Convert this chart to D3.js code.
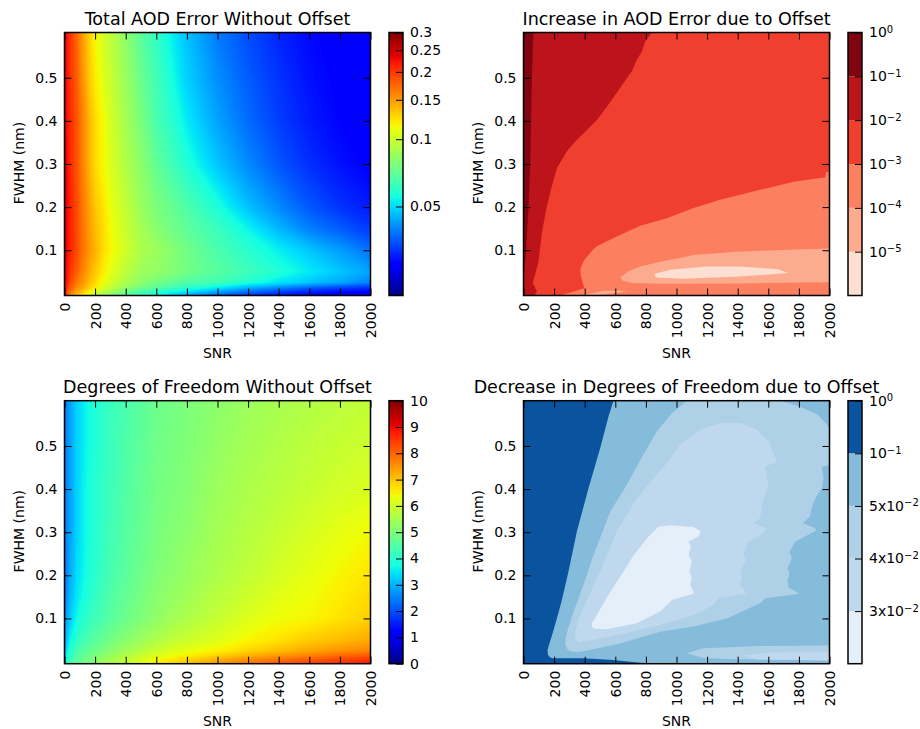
<!DOCTYPE html>
<html>
<head>
<meta charset="utf-8">
<script src="https://cdn.jsdelivr.net/npm/d3@7"></script>
<style>
  body { margin: 0; background: #fff; }
  text { font-family: 'DejaVu Sans', sans-serif; fill: #000; }
  .title { font-size: 17.5px; text-anchor: middle; }
  .axis-label { font-size: 14px; text-anchor: middle; }
  .tick text { font-size: 14px; }
  .tick line { stroke: #000; stroke-width: 1; }
</style>
</head>
<body>
<svg width="920" height="729"></svg>
<script>
(function (d3) {
  'use strict';

  const snrTicks = [0, 200, 400, 600, 800, 1000, 1200, 1400, 1600, 1800, 2000];
  const fwhmTicks = [0.1, 0.2, 0.3, 0.4, 0.5];

  // grid nodes for the two smooth maps
  const snrNodes = [0, 15, 40, 80, 120, 160, 200, 250, 300, 350, 400, 500, 600, 700, 800, 1000, 1200, 1400, 1600, 1800, 2000];
  const fwhmNodes = [-0.005, 0.004, 0.013, 0.025, 0.05, 0.1, 0.15, 0.2, 0.3, 0.4, 0.5, 0.605];

  // total AOD error, one row per fwhm node
  const aodError = [
    [.217, .185, .153, .133, .120, .107, .096, .086, .080, .073, .068, .059, .053, .0475, .0427, .0363, .0317, .0292, .0277, .0262, .0255],
    [.230, .195, .170, .149, .133, .120, .107, .096, .089, .082, .075, .066, .061, .056, .052, .044, .038, .034, .031, .029, .028],
    [.242, .206, .180, .157, .145, .130, .120, .107, .099, .091, .084, .075, .070, .064, .059, .052, .045, .0405, .0363, .0335, .0317],
    [.249, .217, .190, .166, .153, .137, .126, .113, .104, .096, .091, .082, .075, .0714, .0676, .0641, .0575, .0516, .0475, .0439, .0394],
    [.249, .223, .200, .180, .161, .145, .133, .120, .110, .102, .096, .086, .084, .0796, .0753, .0686, .0632, .0575, .0523, .0475, .0433],
    [.256, .230, .212, .190, .170, .153, .141, .126, .116, .109, .102, .091, .0863, .0807, .0753, .0658, .0591, .053, .0475, .0427, .0378],
    [.256, .230, .212, .190, .168, .151, .137, .125, .1148, .107, .100, .0887, .081, .0753, .0704, .0625, .0537, .0457, .0394, .0358, .0326],
    [.256, .230, .212, .190, .166, .149, .133, .123, .112, .104, .0975, .086, .0775, .0724, .0666, .0567, .0469, .0405, .0353, .0321, .030],
    [.256, .230, .206, .185, .161, .141, .126, .116, .106, .099, .092, .082, .0714, .0641, .0575, .0475, .0405, .0353, .0317, .0292, .0277],
    [.249, .223, .206, .185, .161, .141, .126, .115, .104, .096, .089, .0775, .0658, .0591, .0523, .0433, .0373, .033, .030, .0281, .0273],
    [.249, .223, .200, .180, .153, .133, .120, .109, .100, .092, .086, .0733, .0641, .0559, .0488, .041, .0358, .0321, .0292, .0277, .027],
    [.249, .223, .200, .175, .149, .130, .116, .104, .096, .089, .082, .0695, .0607, .053, .0469, .0388, .0343, .0308, .0285, .0273, .0266]
  ];

  // degrees of freedom, one row per fwhm node
  const dof = [
    [2.9, 3.9, 4.3, 4.65, 4.85, 5.0, 5.2, 5.4, 5.6, 5.75, 5.9, 6.25, 6.55, 6.8, 7.0, 7.5, 7.9, 8.2, 8.45, 8.65, 8.85],
    [2.8, 3.8, 4.25, 4.6, 4.8, 4.95, 5.1, 5.3, 5.5, 5.65, 5.8, 6.15, 6.4, 6.65, 6.85, 7.25, 7.65, 7.9, 8.15, 8.35, 8.55],
    [2.7, 3.7, 4.15, 4.5, 4.7, 4.85, 5.0, 5.2, 5.35, 5.5, 5.65, 5.95, 6.2, 6.4, 6.6, 6.9, 7.25, 7.5, 7.75, 8.0, 8.2],
    [2.6, 3.5, 4.0, 4.35, 4.55, 4.7, 4.85, 5.0, 5.15, 5.3, 5.45, 5.7, 5.95, 6.15, 6.3, 6.55, 6.85, 7.1, 7.35, 7.55, 7.7],
    [2.5, 3.2, 3.7, 4.05, 4.3, 4.45, 4.6, 4.75, 4.9, 5.05, 5.15, 5.4, 5.6, 5.8, 5.95, 6.2, 6.5, 6.7, 6.95, 7.1, 7.3],
    [2.4, 2.9, 3.3, 3.7, 3.95, 4.15, 4.25, 4.4, 4.55, 4.7, 4.8, 5.05, 5.25, 5.45, 5.6, 5.9, 6.2, 6.4, 6.5, 6.7, 6.9],
    [2.35, 2.7, 3.1, 3.5, 3.75, 3.95, 4.1, 4.3, 4.45, 4.6, 4.7, 4.95, 5.15, 5.3, 5.45, 5.75, 6.0, 6.25, 6.4, 6.6, 6.8],
    [2.3, 2.6, 3.0, 3.4, 3.65, 3.85, 4.0, 4.2, 4.35, 4.5, 4.6, 4.85, 5.05, 5.2, 5.35, 5.6, 5.85, 6.1, 6.3, 6.5, 6.7],
    [2.3, 2.6, 2.9, 3.3, 3.6, 3.8, 3.95, 4.1, 4.3, 4.4, 4.55, 4.75, 4.95, 5.1, 5.2, 5.5, 5.7, 5.9, 6.1, 6.3, 6.45],
    [2.3, 2.6, 2.9, 3.3, 3.6, 3.8, 3.95, 4.1, 4.25, 4.35, 4.5, 4.7, 4.9, 5.0, 5.1, 5.4, 5.6, 5.75, 5.9, 6.05, 6.15],
    [2.3, 2.6, 2.9, 3.3, 3.55, 3.75, 3.9, 4.05, 4.2, 4.3, 4.45, 4.65, 4.85, 4.95, 5.05, 5.3, 5.5, 5.65, 5.8, 5.9, 6.0],
    [2.3, 2.6, 2.9, 3.3, 3.55, 3.75, 3.9, 4.05, 4.2, 4.3, 4.4, 4.6, 4.8, 4.9, 5.0, 5.2, 5.4, 5.55, 5.65, 5.75, 5.85]
  ];

  const errorTicks = [0.05, 0.1, 0.15, 0.2, 0.25, 0.3];
  const errorLabels = ['0.05', '0.1', '0.15', '0.2', '0.25', '0.3'];
  const dofTicks = [0, 1, 2, 3, 4, 5, 6, 7, 8, 9, 10];

  // contour outlines, as [snr, fwhm]
  const increaseColors = ['#fee0d2', '#fcab8f', '#fc7f5f', '#f03f2e', '#bc141a', '#7f0610'];
  const increaseLabels = [['10', '−5'], ['10', '−4'], ['10', '−3'], ['10', '−2'], ['10', '−1'], ['10', '0']];

  const increaseBand3 = [[2000, .283], [1976, .280], [1972, .269], [1765, .259], [1547, .240], [1286, .217], [1111, .198], [937, .174], [763, .157], [610, .132], [479, .109], [450, .100], [425, .089], [398, .078], [381, .066], [371, .055], [375, .040], [397, .012], [330, .004], [240, -.005], [2000, -.005]];
  const increaseBand2 = [[2000, .104], [1743, .101], [1416, .097], [1109, .089], [1024, .082], [900, .074], [763, .062], [680, .050], [632, .036], [650, .029], [717, .024], [900, .022], [1416, .023], [2000, .026]];
  const increaseBand2Low = [[403, -.004], [520, .006], [675, .006], [632, .002], [500, -.003]];
  const increaseBand1 = [[853, .045], [866, .037], [1044, .034], [1416, .039], [1730, .047], [1664, .056], [1416, .062], [1198, .062], [958, .055]];
  const increaseBand5 = [[839, .605], [795, .584], [774, .561], [741, .542], [708, .515], [654, .488], [593, .457], [545, .433], [479, .402], [403, .375], [338, .352], [283, .329], [218, .290], [179, .240], [148, .194], [120, .140], [98, .074], [61, .024], [88, .004], [70, -.005], [0, -.005], [0, .605]];
  const increaseBand6 = [[65, .605], [55, .5], [44, .3], [33, .2], [17, .1], [5, .05], [0, .02], [0, .605]];

  const decreaseColors = ['#e4eff9', '#bfd8ed', '#aed1e7', '#85bbdb', '#0a539e'];
  const decreaseLabels = [['3x10', '−2'], ['4x10', '−2'], ['5x10', '−2'], ['10', '−1'], ['10', '0']];

  const decreaseBand5 = [[588, .605], [556, .569], [501, .495], [425, .402], [349, .302], [294, .209], [251, .143], [218, .100], [190, .065], [168, .040], [157, .027], [160, .016], [172, .010], [190, .0075], [392, .0075], [587, .0036], [763, -.003], [820, -.005], [0, -.005], [0, .605]];
  const decreaseBand3 = [[1068, .605], [970, .576], [872, .534], [784, .480], [675, .410], [567, .348], [458, .247], [392, .178], [316, .104], [290, .075], [276, .055], [272, .042], [282, .031], [305, .024], [345, .022], [392, .024], [631, .042], [893, .069], [1111, .081], [1329, .100], [1547, .135], [1580, .147], [1804, .157], [1732, .172], [1726, .189], [1739, .205], [1726, .216], [1754, .240], [1739, .255], [1776, .278], [1913, .304], [1906, .310], [1825, .321], [1872, .336], [1883, .356], [1913, .383], [1950, .402], [1961, .425], [1950, .452], [2000, .456], [2000, .542], [1965, .557], [1918, .574], [1798, .592], [1678, .605]];
  const decreaseBand2 = [[338, .066], [360, .100], [392, .124], [501, .209], [610, .302], [741, .379], [850, .425], [937, .460], [1024, .503], [1155, .538], [1286, .553], [1416, .553], [1525, .538], [1602, .511], [1634, .483], [1656, .463], [1580, .453], [1591, .425], [1602, .406], [1569, .379], [1547, .333], [1503, .321], [1586, .309], [1569, .298], [1471, .278], [1438, .251], [1456, .236], [1416, .208], [1427, .189], [1412, .181], [1456, .158], [1275, .147], [1242, .131], [1111, .108], [1003, .096], [893, .085], [588, .059], [382, .046], [360, .045], [340, .052]];
  const decreaseBand1 = [[447, .089], [446, .082], [458, .076], [545, .075], [741, .089], [893, .116], [970, .143], [1116, .158], [1090, .178], [1100, .193], [1085, .209], [1100, .232], [1079, .247], [1094, .267], [1079, .278], [1144, .290], [1159, .303], [1111, .312], [959, .316], [883, .313], [817, .290], [719, .246], [654, .209], [556, .155], [479, .108]];
  const decreaseLens3 = [[1063, .019], [1176, .031], [1547, .036], [2000, .037], [2000, .002], [1329, .006], [1176, .008]];
  const decreaseLens2 = [[1434, .014], [1612, .021], [2000, .022], [2000, .003], [1525, .005]];

  // jet colormap control points
  const jetR = [[0, 0], [.35, 0], [.66, 1], [.89, 1], [1, .5]];
  const jetG = [[0, 0], [.125, 0], [.375, 1], [.64, 1], [.91, 0], [1, 0]];
  const jetB = [[0, .5], [.11, 1], [.34, 1], [.65, 0], [1, 0]];

  const channel = pts => d3.scaleLinear().domain(pts.map(p => p[0])).range(pts.map(p => p[1]));
  const jetRScale = channel(jetR), jetGScale = channel(jetG), jetBScale = channel(jetB);
  const jet = t => `rgb(${Math.round(jetRScale(t) * 255)},${Math.round(jetGScale(t) * 255)},${Math.round(jetBScale(t) * 255)})`;

  const svg = d3.select('svg');
  const plotWidth = 306;
  const plotHeight = 263;
  const tickLen = 7;
  const leftCol = 64.5, rightCol = 523.5;
  const topRow = 32.5, bottomRow = 400.7;
  const barGap = 18.5, barWidth = 14;

  const xScale = d3.scaleLinear().domain([0, 2000]).range([0, plotWidth]);
  const yScale = d3.scaleLinear().domain([-0.005, 0.605]).range([plotHeight, 0]);

  let clipCount = 0;

  const panel = (left, top, titleText) => {
    const g = svg.append('g').attr('transform', `translate(${left},${top})`);
    const clipId = `clip-${clipCount++}`;
    g.append('clipPath').attr('id', clipId).append('rect')
      .attr('width', plotWidth).attr('height', plotHeight);
    const marks = g.append('g').attr('clip-path', `url(#${clipId})`);

    g.append('text').attr('class', 'title')
      .attr('x', plotWidth / 2).attr('y', -8)
      .text(titleText);

    g.append('text').attr('class', 'axis-label')
      .attr('x', plotWidth / 2).attr('y', plotHeight + 62)
      .text('SNR');

    g.append('text').attr('class', 'axis-label')
      .attr('transform', `translate(-41,${plotHeight / 2 - 1}) rotate(-90)`)
      .text('FWHM (nm)');

    return { g, marks, left, top };
  };

  const finishAxes = p => {
    const xBottom = p.g.append('g').attr('transform', `translate(0,${plotHeight})`)
      .call(d3.axisBottom(xScale).tickValues(snrTicks).tickFormat(d3.format('d')).tickSizeInner(-tickLen).tickSizeOuter(0).tickPadding(7));
    xBottom.selectAll('text')
      .attr('transform', 'rotate(-90)')
      .attr('text-anchor', 'end')
      .attr('dy', '0.36em')
      .attr('x', -7)
      .attr('y', 0);
    p.g.append('g')
      .call(d3.axisTop(xScale).tickValues(snrTicks).tickFormat('').tickSizeInner(-tickLen).tickSizeOuter(0));
    p.g.append('g')
      .call(d3.axisLeft(yScale).tickValues(fwhmTicks).tickFormat(d3.format('.1f')).tickSizeInner(-tickLen).tickSizeOuter(0).tickPadding(7));
    p.g.append('g').attr('transform', `translate(${plotWidth},0)`)
      .call(d3.axisRight(yScale).tickValues(fwhmTicks).tickFormat('').tickSizeInner(-tickLen).tickSizeOuter(0));
    p.g.selectAll('.domain').remove();
    p.g.append('rect')
      .attr('width', plotWidth).attr('height', plotHeight)
      .attr('fill', 'none').attr('stroke', '#000').attr('stroke-width', 1.5);
  };

  // smooth map: stacked d3.contours on the grid, painted low to high
  const drawField = (p, rows, field, color, lo, hi) => {
    const nx = snrNodes.length, ny = fwhmNodes.length;
    const levels = 220;
    const flat = rows.flat().map(field);
    const thresholds = d3.range(levels).map(i => lo + (hi - lo) * i / levels);
    const colToSnr = d3.scaleLinear().domain(d3.range(nx)).range(snrNodes).clamp(true);
    const rowToFwhm = d3.scaleLinear().domain(d3.range(ny)).range(fwhmNodes).clamp(true);
    const path = d3.geoPath(d3.geoTransform({
      point(x, y) {
        this.stream.point(xScale(colToSnr(x - 0.5)), yScale(rowToFwhm(y - 0.5)));
      }
    }));
    p.marks.selectAll('path.band')
      .data(d3.contours().size([nx, ny]).thresholds(thresholds)(flat).filter(c => c.coordinates.length))
      .enter().append('path')
      .attr('class', 'band')
      .attr('d', path)
      .attr('fill', d => color(d.value + (hi - lo) / levels / 2));
  };

  const outline = d3.line().x(d => xScale(d[0])).y(d => yScale(d[1]));

  const drawRegion = (p, points, fill) => {
    p.marks.append('path').attr('d', outline(points) + 'Z').attr('fill', fill);
  };

  const colorbarGroup = p => p.g.append('g')
    .attr('transform', `translate(${plotWidth + barGap},0)`);

  const closeBar = bar => {
    bar.selectAll('.domain').remove();
    bar.append('rect').attr('width', barWidth).attr('height', plotHeight)
      .attr('fill', 'none').attr('stroke', '#000').attr('stroke-width', 1.5);
  };

  const continuousBar = (p, scale, color, lo, hi, ticks, format) => {
    const bar = colorbarGroup(p);
    const n = 256;
    bar.selectAll('rect.slice').data(d3.range(n))
      .enter().append('rect')
      .attr('class', 'slice')
      .attr('width', barWidth)
      .attr('y', i => plotHeight * (1 - (i + 1) / n))
      .attr('height', plotHeight / n + 0.5)
      .attr('shape-rendering', 'crispEdges')
      .attr('fill', i => color(lo + (hi - lo) * (i + 0.5) / n));
    bar.append('g').attr('transform', `translate(${barWidth},0)`)
      .call(d3.axisRight(scale).tickValues(ticks).tickFormat(format).tickSizeInner(-tickLen).tickSizeOuter(0).tickPadding(7));
    closeBar(bar);
  };

  const bandBar = (p, colors, labels) => {
    const bar = colorbarGroup(p);
    const scale = d3.scaleLinear().domain([0, colors.length]).range([plotHeight, 0]);
    bar.selectAll('rect.slice').data(colors)
      .enter().append('rect')
      .attr('class', 'slice')
      .attr('width', barWidth)
      .attr('y', (d, i) => scale(i + 1))
      .attr('height', (d, i) => scale(i) - scale(i + 1))
      .attr('fill', d => d);
    const axisG = bar.append('g').attr('transform', `translate(${barWidth},0)`)
      .call(d3.axisRight(scale).tickValues(d3.range(1, colors.length + 1)).tickFormat('').tickSizeInner(-tickLen).tickSizeOuter(0).tickPadding(7));
    const labelText = axisG.selectAll('.tick text');
    labelText.each(function (d) {
      const [base, exp] = labels[d - 1];
      const t = d3.select(this);
      t.append('tspan').text(base);
      t.append('tspan').attr('dy', '-0.45em').style('font-size', '10px').text(exp);
    });
    closeBar(bar);
  };

  // top left
  const p1 = panel(leftCol, topRow, 'Total AOD Error Without Offset');
  const errLo = Math.log(0.02), errHi = Math.log(0.3);
  const errColor = v => jet((v - errLo) / (errHi - errLo));
  drawField(p1, aodError, Math.log, errColor, errLo, errHi);
  finishAxes(p1);
  const errBarScale = d3.scaleLog().domain([0.02, 0.3]).range([plotHeight, 0]);
  continuousBar(p1, errBarScale, errColor, errLo, errHi, errorTicks, d => errorLabels[errorTicks.indexOf(d)]);

  // top right
  const p2 = panel(rightCol, topRow, 'Increase in AOD Error due to Offset');
  p2.marks.append('rect').attr('width', plotWidth).attr('height', plotHeight).attr('fill', increaseColors[3]);
  drawRegion(p2, increaseBand3, increaseColors[2]);
  drawRegion(p2, increaseBand2, increaseColors[1]);
  drawRegion(p2, increaseBand2Low, increaseColors[1]);
  drawRegion(p2, increaseBand1, increaseColors[0]);
  drawRegion(p2, increaseBand5, increaseColors[4]);
  drawRegion(p2, increaseBand6, increaseColors[5]);
  finishAxes(p2);
  bandBar(p2, increaseColors, increaseLabels);

  // bottom left
  const p3 = panel(leftCol, bottomRow, 'Degrees of Freedom Without Offset');
  const dofColor = v => jet(v / 10);
  drawField(p3, dof, d => d, dofColor, 0, 10);
  finishAxes(p3);
  const dofBarScale = d3.scaleLinear().domain([0, 10]).range([plotHeight, 0]);
  continuousBar(p3, dofBarScale, dofColor, 0, 10, dofTicks, d3.format('d'));

  // bottom right
  const p4 = panel(rightCol, bottomRow, 'Decrease in Degrees of Freedom due to Offset');
  p4.marks.append('rect').attr('width', plotWidth).attr('height', plotHeight).attr('fill', decreaseColors[3]);
  drawRegion(p4, decreaseBand5, decreaseColors[4]);
  drawRegion(p4, decreaseBand3, decreaseColors[2]);
  drawRegion(p4, decreaseBand2, decreaseColors[1]);
  drawRegion(p4, decreaseBand1, decreaseColors[0]);
  drawRegion(p4, decreaseLens3, decreaseColors[2]);
  drawRegion(p4, decreaseLens2, decreaseColors[1]);
  finishAxes(p4);
  bandBar(p4, decreaseColors, decreaseLabels);

}(d3));
</script>
</body>
</html>
